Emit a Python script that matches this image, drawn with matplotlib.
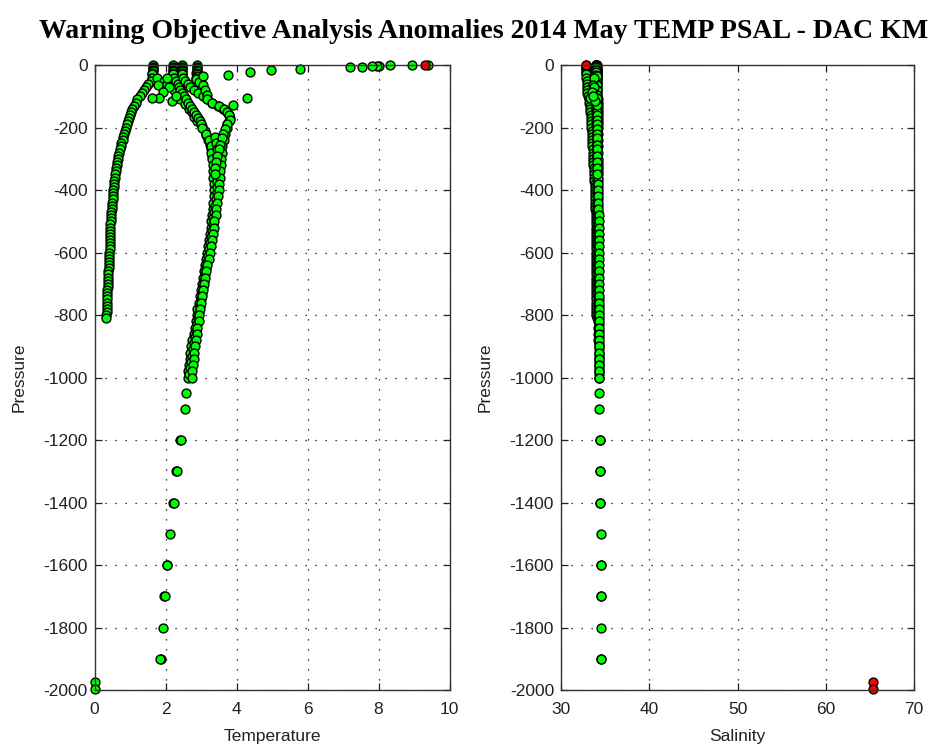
import matplotlib
matplotlib.use('Agg')
import matplotlib.pyplot as plt

plt.rcParams['font.family'] = ['Liberation Sans', 'DejaVu Sans']
plt.rcParams['axes.unicode_minus'] = False

TITLE = "Warning Objective Analysis Anomalies 2014 May TEMP PSAL - DAC KM"
X1_LABEL = "Temperature"
X2_LABEL = "Salinity"
Y_LABEL = "Pressure"
X1_TICKS = [0, 2, 4, 6, 8, 10]
X2_TICKS = [30, 40, 50, 60, 70]
Y_TICKS = [0, -200, -400, -600, -800, -1000, -1200, -1400, -1600, -1800, -2000]

# ---- Profile A (cold, shallow) ----
pres_a = [0, -5, -10, -15, -20, -25, -30,
          -40, -50, -60, -70, -80, -90, -100, -110, -120, -130, -140, -150, -160, -170, -180, -190, -200,
          -210, -220, -230, -240, -250, -260, -270, -280, -290, -300,
          -310, -320, -330, -340, -350, -360, -370, -380, -390, -400,
          -410, -420, -430, -440, -450, -460, -470, -480, -490, -500,
          -510, -520, -530, -540, -550, -560, -570, -580, -590, -600,
          -610, -620, -630, -640, -650, -660, -670, -680, -690, -700,
          -710, -720, -730, -740, -750, -760, -770, -780, -790, -800, -810]
temp_a = [1.64, 1.64, 1.65, 1.64, 1.64, 1.63, 1.62,
          1.62, 1.58, 1.52, 1.46, 1.40, 1.33, 1.27, 1.21, 1.16, 1.11, 1.06, 1.02, 0.99, 0.96, 0.94, 0.91, 0.89,
          0.87, 0.84, 0.81, 0.79, 0.76, 0.74, 0.71, 0.69, 0.67, 0.65,
          0.63, 0.62, 0.61, 0.60, 0.58, 0.57, 0.56, 0.55, 0.54, 0.53,
          0.52, 0.52, 0.51, 0.50, 0.49, 0.48, 0.47, 0.47, 0.46, 0.46,
          0.45, 0.45, 0.45, 0.44, 0.44, 0.44, 0.43, 0.43, 0.43, 0.42,
          0.42, 0.41, 0.41, 0.40, 0.40, 0.39, 0.39, 0.38, 0.38, 0.37,
          0.37, 0.36, 0.36, 0.36, 0.35, 0.35, 0.35, 0.34, 0.34, 0.33, 0.32]
psal_a = [32.83, 32.84, 32.85, 32.85, 32.86, 32.86, 32.87,
          32.88, 32.90, 32.92, 32.94, 32.97, 33.00, 33.05, 33.12, 33.18, 33.24, 33.28, 33.32, 33.35, 33.38,
          33.40, 33.42, 33.44,
          33.46, 33.48, 33.50, 33.52, 33.54, 33.56, 33.58, 33.60, 33.62, 33.64,
          33.66, 33.68, 33.70, 33.72, 33.74, 33.76, 33.78, 33.80, 33.82, 33.83,
          33.84, 33.86, 33.87, 33.88, 33.89, 33.90, 33.91, 33.92, 33.93, 33.93,
          33.94, 33.94, 33.95, 33.95, 33.96, 33.96, 33.97, 33.97, 33.97, 33.97,
          33.98, 33.98, 33.98, 33.98, 33.99, 33.99, 33.99, 33.99, 34.00, 34.00,
          34.00, 34.00, 34.01, 34.01, 34.01, 34.01, 34.02, 34.02, 34.02, 34.02, 34.03]

# ---- Profile B (deep) ----
pres_b = [0, -5, -10, -15, -20, -25, -30,
          -40, -50, -60, -70, -80, -90, -100, -110, -120, -130, -140, -150, -160, -170, -180, -190, -200,
          -220, -240, -260, -280, -300, -320, -340, -360, -380, -400,
          -420, -440, -460, -480, -500, -520, -540, -560, -580, -600,
          -620, -640, -660, -680, -700, -720, -740, -760, -780, -800,
          -820, -840, -860, -880, -900, -920, -940, -960, -980, -1000,
          -1050, -1100, -1200, -1300, -1400, -1500, -1600, -1700, -1800, -1900]
temp_b = [2.22, 2.22, 2.23, 2.22, 2.22, 2.21, 2.22,
          2.25, 2.30, 2.35, 2.38, 2.41, 2.46, 2.52, 2.58, 2.64, 2.70, 2.74, 2.80, 2.86, 2.92, 2.97, 3.00, 3.02,
          3.15, 3.22, 3.27, 3.28, 3.30, 3.33, 3.34, 3.35, 3.36, 3.37,
          3.36, 3.35, 3.33, 3.31, 3.29, 3.27, 3.24, 3.22, 3.19, 3.17,
          3.14, 3.11, 3.08, 3.05, 3.02, 2.99, 2.96, 2.93, 2.90, 2.88,
          2.85, 2.82, 2.79, 2.76, 2.73, 2.70, 2.68, 2.66, 2.64, 2.62,
          2.59, 2.54, 2.42, 2.30, 2.22, 2.13, 2.03, 1.97, 1.93, 1.86]
psal_b = [33.95, 33.95, 33.96, 33.96, 33.96, 33.97, 33.97,
          33.97, 33.98, 33.98, 33.99, 33.99, 34.00, 34.00, 34.01, 34.01, 34.02, 34.02, 34.03, 34.03, 34.03,
          34.04, 34.04, 34.05,
          34.05, 34.06, 34.06, 34.07, 34.07, 34.08, 34.08, 34.09, 34.09, 34.10,
          34.10, 34.11, 34.11, 34.12, 34.12, 34.13, 34.13, 34.14, 34.14, 34.15,
          34.15, 34.16, 34.16, 34.17, 34.17, 34.18, 34.18, 34.19, 34.19, 34.20,
          34.21, 34.22, 34.23, 34.24, 34.25, 34.26, 34.27, 34.27, 34.28, 34.28,
          34.30, 34.32, 34.38, 34.42, 34.45, 34.48, 34.50, 34.52, 34.53, 34.55]

# ---- Profile C (deep, warmer core) ----
pres_c = [0, -5, -10, -15, -20, -25, -30,
          -40, -50, -60, -70, -80, -90, -100, -110, -120, -130, -140, -150, -160, -170, -180, -190, -200,
          -220, -240, -260, -280, -300, -320, -340, -360, -380, -400,
          -420, -440, -460, -480, -500, -520, -540, -560, -580, -600,
          -620, -640, -660, -680, -700, -720, -740, -760, -780, -800,
          -820, -840, -860, -880, -900, -920, -940, -960, -980, -1000,
          -1200, -1300, -1400, -1600, -1700, -1900]
temp_c = [2.46, 2.46, 2.47, 2.46, 2.46, 2.47, 2.46,
          2.48, 2.55, 2.62, 2.70, 2.80, 2.92, 3.05, 3.16, 3.30, 3.48, 3.62, 3.72, 3.80, 3.82, 3.78, 3.74, 3.72,
          3.68, 3.64, 3.60, 3.58, 3.56, 3.55, 3.54, 3.53, 3.52, 3.50,
          3.48, 3.46, 3.43, 3.41, 3.38, 3.36, 3.33, 3.30, 3.28, 3.25,
          3.22, 3.18, 3.15, 3.12, 3.08, 3.06, 3.03, 3.00, 2.98, 2.95,
          2.93, 2.90, 2.88, 2.86, 2.83, 2.81, 2.79, 2.77, 2.76, 2.74,
          2.45, 2.33, 2.24, 2.05, 1.99, 1.84]
psal_c = [34.08, 34.08, 34.09, 34.09, 34.10, 34.10, 34.10,
          34.10, 34.11, 34.11, 34.12, 34.12, 34.13, 34.13, 34.14, 34.14, 34.15, 34.15, 34.16, 34.16, 34.16,
          34.17, 34.17, 34.18,
          34.18, 34.19, 34.19, 34.20, 34.20, 34.21, 34.21, 34.22, 34.22, 34.23,
          34.23, 34.24, 34.24, 34.25, 34.25, 34.25, 34.26, 34.26, 34.26, 34.27,
          34.27, 34.27, 34.28, 34.28, 34.28, 34.29, 34.29, 34.29, 34.30, 34.30,
          34.30, 34.31, 34.31, 34.32, 34.32, 34.33, 34.33, 34.34, 34.34, 34.35,
          34.40, 34.44, 34.47, 34.51, 34.53, 34.56]

# ---- Profile G (deep, between B and C) ----
pres_g = [-230, -250, -270, -290, -310, -330, -350, -370, -390, -410,
          -430, -450, -470, -490, -510, -530, -550, -570, -590, -610,
          -630, -650, -670, -690, -710, -730, -750, -770, -790, -810,
          -830, -850, -870, -890, -910, -930, -950, -970, -990]
temp_g = [3.40, 3.42, 3.44, 3.45, 3.46, 3.46, 3.46, 3.46, 3.45, 3.44,
          3.42, 3.40, 3.38, 3.35, 3.33, 3.30, 3.28, 3.25, 3.23, 3.20,
          3.17, 3.14, 3.11, 3.08, 3.05, 3.02, 2.99, 2.97, 2.94, 2.92,
          2.89, 2.86, 2.83, 2.80, 2.77, 2.75, 2.72, 2.70, 2.67]
psal_g = [34.12, 34.12, 34.13, 34.13, 34.14, 34.14, 34.15, 34.15, 34.16, 34.16,
          34.17, 34.17, 34.18, 34.18, 34.19, 34.19, 34.20, 34.20, 34.21, 34.21,
          34.22, 34.22, 34.23, 34.23, 34.24, 34.24, 34.25, 34.25, 34.26, 34.26,
          34.27, 34.27, 34.28, 34.28, 34.29, 34.29, 34.30, 34.30, 34.31]

# ---- Profile D (upper layer) ----
pres_d = [0, -5, -10, -15, -20, -25, -30, -35, -40, -45, -55, -65, -80, -95, -110, -120, -130, -140,
          -150, -160, -175, -190, -205, -220, -235, -255, -270, -290, -310, -330, -350]
temp_d = [2.88, 2.88, 2.89, 2.88, 2.88, 2.87, 2.88, 2.88, 2.87, 2.86, 2.95, 3.05, 3.10, 3.16, 3.16, 3.30,
          3.50, 3.65, 3.72, 3.80, 3.82, 3.72, 3.68, 3.63, 3.58, 3.53, 3.50, 3.45, 3.42, 3.40, 3.40]
psal_d = [34.02, 34.02, 34.02, 34.03, 34.03, 34.03, 34.03, 34.04, 34.04, 34.04, 34.05, 34.05, 34.05, 34.06,
          34.06, 34.06, 34.07, 34.07, 34.07, 34.08, 34.08, 34.08, 34.09, 34.09, 34.09, 34.10, 34.10, 34.10,
          34.11, 34.11, 34.11]

# ---- Profile H (1.66 column branch going warm) ----
pres_h = [-40, -50, -60, -70, -80, -95, -110, -125, -140, -150, -165, -180, -195, -210, -225, -240, -255,
          -270, -290]
temp_h = [1.75, 1.95, 2.05, 2.15, 2.25, 2.35, 2.41, 2.55, 2.65, 2.74, 2.80, 2.90, 3.02, 3.10, 3.15, 3.20,
          3.25, 3.28, 3.30]
psal_h = [33.85, 33.88, 33.90, 33.92, 33.94, 33.95, 33.96, 33.97, 33.98, 33.99, 34.00, 34.01, 34.02, 34.03,
          34.04, 34.05, 34.06, 34.07, 34.08]

# ---- Profile E (warm surface spike) ----
pres_e = [0, -1, -1, -2, -2, -2, -5, -6, -13, -17, -22, -31, -36, -106, -127]
temp_e = [9.40, 8.93, 8.32, 8.00, 7.95, 7.81, 7.53, 7.20, 5.79, 4.96, 4.38, 3.77, 3.07, 4.29, 3.91]
psal_e = [33.98, 33.98, 33.99, 33.99, 33.99, 34.00, 34.00, 34.00, 34.01, 34.01, 34.02, 34.02, 34.03, 34.05,
          34.06]

# ---- Profile F (scattered near-surface points) ----
pres_f = [-42, -63, -70, -85, -106, -106, -116, -100]
temp_f = [2.03, 1.80, 2.10, 1.93, 1.83, 1.61, 2.17, 2.30]
psal_f = [33.70, 33.60, 33.75, 33.55, 33.45, 33.30, 33.80, 33.65]

# ---- Flagged / bottom points ----
pres_bad = [0]
temp_bad = [9.31]
psal_bad = [32.83]
pres_bottom = [-1973, -1998]
temp_bottom = [0.0, 0.0]
psal_bottom = [65.39, 65.39]

profiles = [(pres_a, temp_a, psal_a), (pres_h, temp_h, psal_h), (pres_b, temp_b, psal_b),
            (pres_g, temp_g, psal_g), (pres_c, temp_c, psal_c), (pres_d, temp_d, psal_d),
            (pres_e, temp_e, psal_e), (pres_f, temp_f, psal_f)]
for p, t, s in profiles:
    assert len(p) == len(t) == len(s), (len(p), len(t), len(s))

GREEN = '#00ff00'
RED = '#ff0000'
MS = 6.4
MEW = 1.0

W, H = 940, 747
fig = plt.figure(figsize=(W / 100, H / 100), dpi=100)


def rect(x0, x1, y0, y1):
    return [x0 / W, 1 - y1 / H, (x1 - x0) / W, (y1 - y0) / H]


ax1 = fig.add_axes(rect(94.5, 449.5, 65, 690))
ax2 = fig.add_axes(rect(561, 914, 65, 690))

mk = dict(linestyle='none', marker='o', ms=MS, mew=MEW, mec='black', clip_on=False)
for p, t, s in profiles:
    ax1.plot(t, p, mfc=GREEN, **mk)
    ax2.plot(s, p, mfc=GREEN, **mk)
ax1.plot(temp_bottom, pres_bottom, mfc=GREEN, **mk)
ax2.plot(psal_bottom, pres_bottom, mfc=RED, **mk)
ax1.plot(temp_bad, pres_bad, mfc=RED, **mk)
ax2.plot(psal_bad, pres_bad, mfc=RED, **mk)

for ax, xt, xl in ((ax1, X1_TICKS, X1_LABEL), (ax2, X2_TICKS, X2_LABEL)):
    ax.set_xlim(xt[0], xt[-1])
    ax.set_ylim(Y_TICKS[-1], Y_TICKS[0])
    ax.set_xticks(xt)
    ax.set_yticks(Y_TICKS)
    ax.set_xticklabels([str(v) for v in xt])
    ax.set_yticklabels([str(v) for v in Y_TICKS])
    ax.grid(True, color='black', linestyle=(0, (1, 7)), linewidth=0.9)
    ax.set_axisbelow(True)
    ax.tick_params(direction='in', top=True, right=True, length=5, width=0.9,
                   labelsize=12.5, colors='#222222', pad=5)
    ax.tick_params(axis='x', pad=9)
    for sp in ax.spines.values():
        sp.set_linewidth(1.0)
        sp.set_color('#333333')
    ax.set_xlabel(xl, fontsize=12.5, color='#222222', labelpad=8)
    ax.set_ylabel(Y_LABEL, fontsize=12.5, color='#222222', labelpad=12)

title = fig.text(484 / W, 1 - 31 / H, TITLE, ha='center', va='center',
                 family=['Liberation Serif', 'DejaVu Serif'], weight='bold', fontsize=17)
fig.canvas.draw()
w = title.get_window_extent().width
title.set_fontsize(17 * 892 / w)

fig.savefig('out.png', dpi=100, facecolor='white')
